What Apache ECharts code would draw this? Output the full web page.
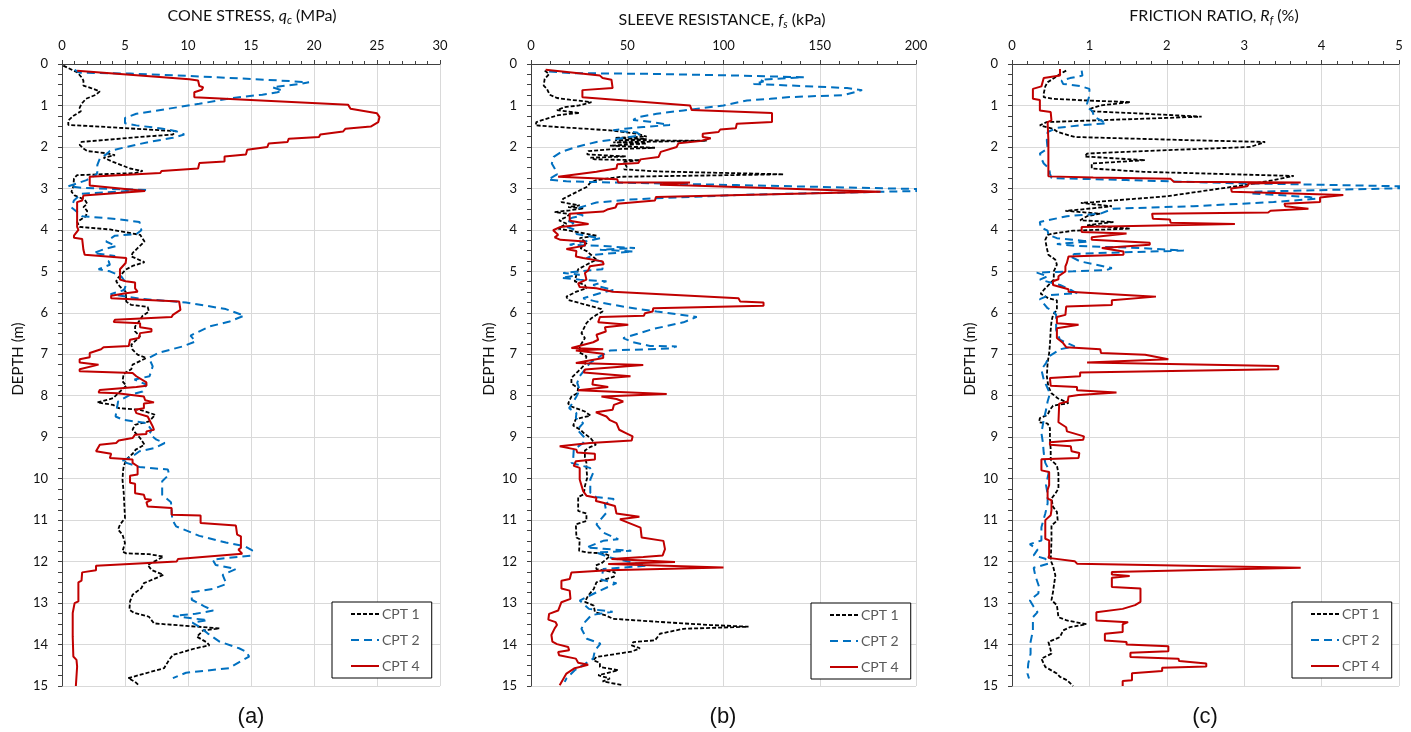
<!DOCTYPE html>
<html><head><meta charset="utf-8">
<script src="https://cdn.jsdelivr.net/npm/echarts@6/dist/echarts.min.js"></script>
<style>html,body{margin:0;padding:0;background:#fff}#c{width:1411px;height:732px}</style>
</head><body><div id="c"></div>
<script>
// ---------- DATA: [value, depth (m)] ----------
const seriesNames = ['CPT 1', 'CPT 2', 'CPT 4'];
const panelLabels = ['(a)', '(b)', '(c)'];
const depthLabel = 'DEPTH (m)';
const qcTicks = [0, 30, 5];      // min, max, interval
const fsTicks = [0, 200, 50];
const rfTicks = [0, 5, 1];
const depthTicks = [0, 15, 1];

const qcCpt1 = [[0.1,0.04],[1.2,0.20],[1.55,0.32],[1.7,0.40],[1.7,0.52],[2.3,0.58],[3.0,0.66],[2.7,0.74],[1.9,0.84],[1.55,0.96],[1.4,1.06],[1.5,1.14],[0.95,1.24],[0.5,1.36],[0.5,1.47],[3.0,1.51],[9.05,1.62],[8.8,1.70],[6.2,1.76],[1.55,1.88],[1.4,1.95],[1.7,2.04],[2.0,2.10],[3.5,2.15],[4.2,2.20],[3.3,2.26],[4.05,2.36],[4.9,2.46],[5.4,2.52],[6.4,2.58],[5.8,2.63],[1.2,2.68],[0.95,2.76],[0.9,2.96],[0.75,3.08],[1.0,3.17],[1.8,3.27],[2.0,3.37],[1.7,3.45],[2.0,3.54],[1.9,3.67],[1.2,3.81],[1.4,3.93],[3.8,3.99],[6.2,4.12],[6.55,4.28],[6.0,4.44],[5.6,4.56],[5.5,4.64],[6.55,4.78],[5.6,4.87],[5.05,4.96],[4.45,5.16],[4.3,5.24],[4.6,5.37],[5.05,5.49],[5.1,5.73],[5.5,5.81],[6.8,5.86],[6.9,5.97],[6.4,6.07],[6.2,6.17],[5.8,6.33],[5.8,6.45],[6.2,6.57],[5.5,6.77],[5.6,6.89],[6.0,7.01],[6.7,7.09],[5.6,7.25],[5.5,7.36],[4.9,7.47],[4.8,7.65],[5.1,7.76],[4.6,7.90],[4.05,8.06],[2.8,8.16],[4.05,8.22],[4.5,8.30],[6.2,8.34],[7.4,8.46],[6.9,8.62],[5.8,8.70],[5.6,8.82],[6.2,9.02],[6.55,9.18],[5.85,9.30],[5.6,9.40],[5.1,9.54],[4.9,9.70],[4.85,9.80],[4.8,10.02],[4.9,10.35],[5.0,10.95],[4.6,11.11],[4.45,11.23],[4.8,11.35],[5.0,11.55],[4.8,11.76],[5.1,11.80],[6.9,11.82],[8.05,11.88],[7.5,11.97],[6.8,12.08],[7.1,12.20],[8.05,12.32],[7.3,12.42],[6.5,12.52],[6.3,12.64],[5.6,12.80],[5.4,12.96],[5.35,13.16],[5.75,13.24],[6.9,13.33],[7.3,13.49],[9.85,13.55],[12.5,13.61],[11.2,13.66],[10.7,13.81],[11.5,13.95],[11.7,14.02],[10.6,14.09],[8.8,14.25],[8.5,14.37],[8.1,14.57],[5.25,14.81],[5.8,14.90],[6.15,15.0]];
const qcCpt2 = [[1.0,0.14],[1.4,0.21],[5.4,0.23],[10.9,0.30],[16.2,0.38],[19.6,0.44],[18.9,0.48],[16.7,0.56],[17.5,0.64],[17.1,0.68],[15.9,0.74],[13.5,0.82],[10.9,0.96],[8.4,1.08],[5.9,1.20],[5.0,1.30],[5.0,1.43],[5.9,1.48],[8.0,1.56],[9.05,1.62],[9.7,1.70],[8.8,1.78],[6.9,1.88],[5.1,2.00],[3.8,2.10],[3.5,2.18],[3.0,2.28],[2.8,2.44],[2.85,2.56],[2.75,2.66],[1.95,2.80],[0.5,2.95],[1.7,2.99],[3.8,3.01],[6.7,3.04],[1.55,3.13],[0.95,3.29],[0.75,3.46],[1.6,3.67],[4.05,3.73],[6.15,3.81],[6.3,4.01],[5.9,4.10],[4.2,4.14],[3.5,4.28],[4.3,4.39],[3.3,4.47],[2.5,4.56],[4.2,4.63],[3.7,4.76],[3.8,4.84],[2.9,4.95],[3.8,5.00],[4.7,5.12],[5.1,5.29],[4.95,5.45],[3.85,5.55],[6.15,5.66],[9.85,5.75],[13.0,5.91],[14.45,6.07],[13.3,6.21],[11.7,6.33],[10.2,6.55],[10.6,6.69],[9.6,6.81],[7.7,6.96],[6.9,7.09],[7.2,7.29],[6.95,7.53],[5.75,7.61],[6.7,7.73],[6.4,7.90],[5.4,7.98],[4.45,8.14],[4.25,8.50],[4.85,8.58],[6.7,8.66],[7.1,8.82],[6.95,8.92],[7.5,9.06],[8.15,9.14],[7.35,9.26],[6.15,9.34],[5.6,9.46],[4.7,9.58],[6.15,9.72],[8.4,9.78],[8.5,9.90],[7.95,10.06],[7.95,10.39],[8.65,10.57],[8.75,10.99],[9.05,11.15],[10.9,11.38],[13.0,11.54],[14.5,11.63],[15.1,11.73],[14.95,11.86],[11.95,11.95],[12.2,12.08],[13.8,12.18],[12.75,12.32],[13.05,12.54],[11.95,12.66],[10.3,12.74],[10.3,12.92],[11.3,13.08],[12.0,13.18],[10.6,13.26],[8.8,13.31],[10.35,13.37],[11.55,13.41],[10.35,13.47],[10.9,13.57],[11.55,13.73],[12.5,13.93],[14.05,14.09],[14.6,14.17],[14.85,14.29],[13.25,14.57],[9.85,14.68],[8.8,14.81]];
const qcCpt4 = [[1.2,0.16],[10.1,0.37],[10.8,0.40],[10.9,0.53],[11.2,0.56],[11.1,0.62],[10.5,0.68],[10.5,0.80],[22.7,0.98],[22.9,1.08],[25.0,1.19],[25.2,1.28],[25.1,1.40],[24.5,1.51],[24.4,1.55],[22.5,1.56],[22.3,1.63],[20.5,1.70],[20.4,1.76],[18.0,1.80],[17.9,1.88],[16.4,1.92],[16.3,2.00],[14.7,2.07],[14.6,2.18],[12.9,2.23],[12.9,2.35],[10.9,2.39],[10.8,2.52],[7.9,2.58],[7.8,2.63],[2.2,2.72],[2.2,2.93],[6.6,3.06],[1.7,3.17],[1.6,3.29],[1.2,3.33],[1.2,3.61],[1.2,3.93],[1.3,4.0],[0.95,4.14],[0.95,4.19],[1.6,4.22],[1.7,4.48],[1.8,4.60],[5.1,4.68],[5.05,4.80],[4.6,4.95],[4.6,5.20],[5.05,5.24],[5.8,5.27],[5.8,5.41],[6.0,5.49],[5.05,5.53],[3.9,5.59],[3.9,5.65],[9.3,5.73],[9.4,5.93],[8.8,6.05],[8.7,6.10],[4.2,6.17],[4.1,6.22],[6.2,6.25],[6.2,6.35],[7.1,6.39],[7.1,6.45],[6.2,6.49],[6.1,6.61],[5.4,6.65],[5.3,6.80],[3.3,6.83],[3.1,6.88],[2.2,6.97],[2.2,7.07],[1.4,7.12],[1.4,7.20],[2.9,7.25],[1.4,7.36],[1.4,7.41],[5.6,7.45],[5.9,7.53],[6.7,7.68],[6.7,7.76],[5.9,7.79],[3.0,7.86],[2.9,7.92],[4.4,7.94],[6.5,8.02],[6.6,8.11],[7.3,8.16],[6.5,8.19],[6.5,8.30],[5.8,8.34],[5.9,8.42],[6.8,8.50],[7.0,8.62],[7.2,8.74],[7.3,8.82],[6.7,8.86],[6.7,8.92],[5.8,8.94],[5.6,9.02],[4.5,9.08],[4.3,9.14],[3.0,9.18],[2.7,9.34],[3.9,9.40],[3.8,9.50],[5.6,9.54],[5.6,9.62],[6.0,9.70],[6.0,9.90],[5.4,9.93],[5.4,10.10],[5.8,10.12],[5.8,10.35],[6.5,10.39],[6.6,10.49],[7.1,10.51],[6.7,10.57],[6.8,10.67],[8.7,10.71],[8.7,10.87],[11.0,10.89],[11.0,11.07],[13.8,11.13],[13.9,11.35],[14.2,11.39],[14.2,11.67],[14.0,11.71],[14.3,11.81],[9.2,11.94],[9.1,12.00],[2.7,12.10],[2.7,12.21],[1.6,12.26],[1.55,12.46],[1.3,12.50],[1.3,12.96],[1.0,13.00],[0.85,13.24],[0.85,13.81],[0.9,14.29],[1.15,14.37],[1.2,14.53],[1.1,15.0]];

const fsCpt1 = [[7.1,0.16],[9.4,0.24],[7.1,0.36],[6.6,0.52],[8.3,0.60],[9.7,0.74],[13.5,0.82],[20.1,0.86],[31.4,0.92],[25.0,1.00],[17.5,1.04],[13.5,1.11],[20.1,1.15],[25.3,1.18],[20.1,1.20],[13.5,1.24],[2.8,1.40],[2.4,1.48],[14.1,1.52],[41.0,1.60],[54.9,1.68],[60.1,1.75],[43.6,1.78],[60.1,1.81],[43.6,1.84],[91.3,1.85],[42.7,1.89],[60.1,1.92],[41.0,1.97],[64.4,2.02],[41.0,2.06],[29.7,2.10],[29.2,2.18],[49.3,2.23],[30.9,2.26],[33.2,2.30],[56.6,2.32],[48.3,2.36],[49.7,2.48],[48.3,2.54],[65.3,2.59],[131.3,2.66],[46.2,2.72],[34.0,2.80],[30.6,2.87],[29.2,2.96],[25.7,3.04],[16.7,3.25],[15.8,3.33],[25.3,3.41],[19.3,3.45],[27.4,3.48],[20.1,3.53],[12.3,3.57],[20.1,3.62],[18.4,3.69],[14.6,3.77],[18.4,3.85],[14.1,3.97],[20.1,4.02],[34.0,4.14],[25.3,4.20],[29.2,4.31],[25.7,4.44],[29.2,4.52],[34.0,4.72],[28.8,4.84],[24.5,4.95],[23.6,5.08],[22.7,5.24],[28.0,5.33],[28.8,5.41],[23.6,5.49],[18.4,5.61],[19.3,5.69],[28.8,5.81],[36.6,5.91],[37.2,5.97],[34.0,6.05],[31.4,6.13],[28.8,6.25],[26.2,6.49],[28.0,6.61],[25.3,6.81],[25.3,6.96],[28.8,7.05],[28.0,7.25],[24.5,7.41],[21.0,7.57],[21.0,7.71],[24.5,7.82],[24.0,7.94],[21.0,8.02],[20.1,8.10],[19.3,8.19],[21.0,8.26],[28.0,8.38],[30.9,8.48],[23.3,8.56],[21.9,8.72],[25.7,8.82],[27.4,8.90],[30.9,9.02],[33.7,9.18],[30.6,9.24],[28.0,9.32],[28.0,9.48],[28.8,9.62],[28.8,9.74],[29.2,9.98],[28.0,10.18],[27.4,10.38],[24.5,10.44],[24.5,10.78],[28.8,10.84],[28.8,11.02],[23.3,11.10],[23.6,11.42],[25.3,11.46],[25.0,11.74],[29.7,11.78],[37.5,11.80],[41.0,11.86],[39.2,11.94],[36.6,12.04],[33.7,12.09],[34.0,12.18],[43.6,12.26],[43.1,12.36],[34.0,12.50],[32.6,12.66],[29.7,12.82],[28.0,12.97],[32.6,13.06],[33.2,13.22],[38.4,13.29],[42.7,13.38],[65.3,13.45],[93.1,13.53],[113.0,13.57],[79.2,13.62],[67.0,13.74],[64.4,13.90],[53.1,13.94],[52.3,14.02],[56.6,14.09],[52.3,14.17],[34.0,14.30],[32.3,14.38],[35.8,14.44],[35.8,14.54],[45.3,14.62],[34.9,14.74],[41.0,14.82],[37.2,14.89],[47.9,14.98]];
const fsCpt2 = [[9.4,0.18],[20.1,0.22],[65.3,0.24],[108.7,0.28],[141.7,0.32],[119.1,0.38],[120.8,0.42],[115.6,0.48],[164.2,0.58],[172.0,0.63],[162.5,0.75],[133.0,0.80],[124.3,0.84],[112.2,0.88],[113.0,0.92],[100.0,1.0],[79.2,1.12],[65.3,1.20],[55.7,1.28],[53.1,1.35],[61.8,1.39],[72.2,1.47],[58.3,1.52],[48.8,1.56],[42.7,1.60],[54.9,1.65],[56.9,1.72],[44.4,1.81],[34.0,1.88],[23.6,2.00],[15.8,2.12],[11.8,2.24],[10.8,2.40],[12.3,2.52],[13.5,2.66],[8.9,2.79],[18.4,2.83],[54.9,2.87],[106.9,2.92],[225,3.04],[141.7,3.12],[106.9,3.16],[63.2,3.24],[51.4,3.27],[44.4,3.30],[34.0,3.34],[25.3,3.46],[24.0,3.61],[27.1,3.65],[21.9,3.70],[18.4,3.77],[22.2,3.83],[18.8,3.93],[23.6,4.01],[23.6,4.10],[36.1,4.20],[20.1,4.36],[37.5,4.39],[54.0,4.44],[35.8,4.48],[53.1,4.52],[33.2,4.60],[28.8,4.68],[36.6,4.76],[37.2,4.95],[16.7,5.04],[25.3,5.08],[15.8,5.16],[25.3,5.20],[39.2,5.24],[32.3,5.33],[42.7,5.45],[34.9,5.54],[27.1,5.65],[34.0,5.73],[48.8,5.86],[65.3,5.97],[86.1,6.10],[79.2,6.23],[63.5,6.39],[47.9,6.61],[53.1,6.71],[61.8,6.80],[75.7,6.81],[72.2,6.86],[41.0,6.91],[35.8,7.05],[30.6,7.21],[28.0,7.37],[25.3,7.53],[24.0,7.69],[25.3,7.86],[23.6,8.02],[21.5,8.18],[19.8,8.30],[23.6,8.42],[23.3,8.54],[27.1,8.66],[24.0,8.82],[28.0,9.02],[27.1,9.14],[22.2,9.30],[21.9,9.54],[21.0,9.62],[30.6,9.74],[32.3,9.86],[30.8,10.02],[30.8,10.34],[33.7,10.44],[43.1,10.49],[38.4,10.62],[39.2,10.82],[34.0,11.10],[37.5,11.30],[45.3,11.46],[37.5,11.50],[28.8,11.66],[37.5,11.69],[52.1,11.74],[34.0,11.78],[41.0,11.90],[60.1,12.10],[37.5,12.18],[36.6,12.44],[44.4,12.52],[35.8,12.70],[25.3,12.94],[30.1,13.14],[42.4,13.21],[31.4,13.29],[28.0,13.46],[26.2,13.62],[29.0,13.86],[36.1,13.98],[33.2,14.14],[32.3,14.34],[22.7,14.62],[18.4,14.82],[17.5,14.90]];
const fsCpt4 = [[7.6,0.14],[8.3,0.18],[35.8,0.28],[37.2,0.34],[41.8,0.38],[42.4,0.58],[26.7,0.63],[26.7,0.80],[82.6,1.0],[83.5,1.11],[125.2,1.18],[125.2,1.40],[106.9,1.44],[106.4,1.55],[98.3,1.58],[97.4,1.64],[89.2,1.68],[89.2,1.76],[93.4,1.79],[87.8,1.86],[76.6,1.91],[75.7,2.00],[67.4,2.12],[66.3,2.24],[56.9,2.30],[55.7,2.39],[44.8,2.42],[44.4,2.52],[36.1,2.58],[34.0,2.60],[14.1,2.72],[44.8,2.78],[45.3,2.86],[82.6,2.86],[67.0,2.91],[82.6,2.93],[181.6,3.08],[64.9,3.21],[64.4,3.29],[44.8,3.37],[43.9,3.46],[39.6,3.51],[37.5,3.56],[20.1,3.61],[20.1,3.78],[29.9,3.86],[15.3,3.93],[11.5,4.01],[14.1,4.12],[12.3,4.18],[15.3,4.24],[28.0,4.28],[28.0,4.38],[18.4,4.46],[23.6,4.51],[23.3,4.64],[27.1,4.68],[37.2,4.76],[37.8,4.83],[30.6,4.88],[29.7,4.98],[28.0,5.04],[28.8,5.20],[24.5,5.29],[25.3,5.38],[34.0,5.41],[42.4,5.49],[43.1,5.53],[107.8,5.65],[108.7,5.73],[120.8,5.75],[120.8,5.83],[63.5,5.89],[63.2,5.97],[59.2,6.01],[58.7,6.07],[35.8,6.10],[34.9,6.23],[50.5,6.29],[38.4,6.35],[38.9,6.45],[34.0,6.53],[34.9,6.65],[32.3,6.71],[21.0,6.85],[37.5,6.88],[23.3,6.91],[37.5,6.99],[37.5,7.09],[23.3,7.21],[58.3,7.26],[28.0,7.37],[27.4,7.44],[51.7,7.53],[32.3,7.60],[31.9,7.73],[40.1,7.79],[24.5,7.87],[70.5,7.96],[36.6,8.02],[44.4,8.08],[47.9,8.14],[43.1,8.22],[42.4,8.34],[33.7,8.40],[39.2,8.50],[41.0,8.59],[44.4,8.66],[45.8,8.82],[49.3,8.90],[52.8,8.98],[52.3,9.08],[30.6,9.14],[14.9,9.22],[23.6,9.30],[24.0,9.37],[33.2,9.40],[33.2,9.54],[23.3,9.58],[22.2,9.69],[25.3,9.74],[25.3,10.02],[27.1,10.30],[28.8,10.41],[34.0,10.46],[33.7,10.54],[37.5,10.58],[43.6,10.66],[44.4,10.84],[56.3,10.92],[46.2,10.98],[56.9,11.18],[57.5,11.42],[68.8,11.50],[69.6,11.70],[68.4,11.85],[58.3,11.89],[41.8,11.94],[74.8,12.01],[40.1,12.06],[100.0,12.14],[40.1,12.21],[21.0,12.26],[20.1,12.42],[15.8,12.46],[15.8,12.65],[20.1,12.70],[20.5,12.90],[15.8,12.98],[14.1,13.18],[9.4,13.26],[9.0,13.40],[12.8,13.46],[13.5,13.53],[12.3,13.61],[10.6,13.77],[11.1,13.93],[13.5,13.99],[19.3,14.06],[19.8,14.14],[14.1,14.18],[14.6,14.26],[23.3,14.34],[24.5,14.44],[29.7,14.49],[22.7,14.57],[18.4,14.70],[14.9,14.98]];

const rfCpt1 = [[0.70,0.16],[0.62,0.24],[0.56,0.32],[0.46,0.44],[0.43,0.54],[0.41,0.71],[0.41,0.80],[0.53,0.84],[0.97,0.88],[1.53,0.92],[1.14,1.00],[1.01,1.08],[1.03,1.14],[1.72,1.20],[2.45,1.27],[2.0,1.30],[0.45,1.40],[0.36,1.48],[0.53,1.56],[0.59,1.64],[0.81,1.76],[2.34,1.84],[3.27,1.88],[3.08,2.00],[1.70,2.10],[0.97,2.16],[0.94,2.23],[1.72,2.32],[1.03,2.40],[1.03,2.52],[1.70,2.60],[3.64,2.70],[3.38,2.80],[3.0,2.92],[2.0,3.19],[1.05,3.33],[0.89,3.35],[1.29,3.43],[0.88,3.51],[0.69,3.54],[1.14,3.61],[0.97,3.67],[0.88,3.77],[1.31,3.81],[0.97,3.89],[1.53,3.97],[0.79,4.02],[0.53,4.09],[0.46,4.12],[0.43,4.24],[0.45,4.44],[0.47,4.60],[0.56,4.72],[0.58,4.84],[0.54,5.00],[0.54,5.20],[0.41,5.45],[0.37,5.54],[0.47,5.65],[0.58,5.70],[0.58,5.93],[0.53,6.05],[0.51,6.21],[0.50,6.41],[0.49,6.77],[0.48,6.97],[0.46,7.21],[0.45,7.53],[0.47,7.78],[0.51,7.94],[0.59,8.06],[0.73,8.18],[0.53,8.24],[0.49,8.34],[0.46,8.46],[0.36,8.54],[0.35,8.64],[0.46,8.67],[0.49,8.78],[0.49,9.02],[0.50,9.30],[0.50,9.54],[0.58,9.68],[0.60,9.88],[0.60,10.24],[0.56,10.36],[0.51,10.48],[0.53,10.68],[0.58,10.80],[0.59,11.00],[0.51,11.13],[0.51,11.49],[0.50,11.97],[0.53,12.11],[0.56,12.33],[0.53,12.73],[0.51,12.93],[0.58,13.05],[0.60,13.34],[0.71,13.42],[0.96,13.51],[0.75,13.58],[0.66,13.66],[0.62,13.82],[0.47,13.94],[0.49,14.06],[0.51,14.22],[0.38,14.34],[0.43,14.54],[0.58,14.70],[0.62,14.78],[0.71,14.86],[0.79,15.0]];
const rfCpt2 = [[0.90,0.16],[0.91,0.28],[0.75,0.34],[0.64,0.40],[0.66,0.48],[0.88,0.53],[1.0,0.60],[1.0,0.76],[0.97,0.96],[0.97,1.04],[1.04,1.14],[1.06,1.27],[1.22,1.43],[0.88,1.48],[0.58,1.54],[0.46,1.64],[0.45,1.84],[0.46,2.04],[0.36,2.16],[0.38,2.28],[0.41,2.40],[0.48,2.52],[0.49,2.64],[0.51,2.75],[1.48,2.80],[2.78,2.87],[5.6,2.97],[3.12,3.08],[3.09,3.12],[3.85,3.21],[3.93,3.25],[3.38,3.33],[2.34,3.43],[1.31,3.49],[1.14,3.61],[0.71,3.67],[0.36,3.81],[0.37,3.94],[0.46,4.02],[0.47,4.12],[0.58,4.20],[0.99,4.28],[0.58,4.34],[0.84,4.39],[1.70,4.44],[2.22,4.50],[1.27,4.55],[0.81,4.58],[0.75,4.64],[0.88,4.76],[1.29,4.92],[1.22,4.97],[0.79,5.00],[0.32,5.03],[0.46,5.12],[0.36,5.20],[0.62,5.33],[0.76,5.45],[0.84,5.53],[0.49,5.57],[0.36,5.67],[0.46,5.89],[0.54,5.97],[0.57,6.05],[0.57,6.41],[0.62,6.65],[0.81,6.81],[0.62,6.88],[0.48,7.05],[0.44,7.21],[0.38,7.37],[0.41,7.61],[0.46,7.82],[0.49,7.95],[0.46,8.14],[0.44,8.34],[0.41,8.58],[0.38,8.90],[0.40,9.14],[0.41,9.38],[0.43,9.62],[0.48,9.80],[0.44,10.16],[0.46,10.36],[0.46,10.60],[0.43,10.84],[0.38,11.17],[0.38,11.49],[0.23,11.58],[0.33,11.71],[0.28,11.85],[0.43,11.93],[0.47,12.05],[0.28,12.15],[0.30,12.33],[0.35,12.61],[0.34,12.77],[0.23,12.93],[0.28,13.09],[0.33,13.22],[0.27,13.34],[0.27,13.66],[0.24,13.94],[0.24,14.22],[0.21,14.46],[0.20,14.70],[0.22,14.82]];
const rfCpt4 = [[0.62,0.12],[0.62,0.28],[0.41,0.34],[0.38,0.54],[0.27,0.60],[0.27,0.84],[0.36,0.87],[0.36,1.12],[0.50,1.16],[0.51,1.36],[0.46,1.40],[0.47,1.84],[0.47,2.71],[1.05,2.74],[2.05,2.77],[2.09,2.84],[3.73,2.86],[3.06,2.88],[3.04,2.95],[2.83,3.00],[2.84,3.08],[4.28,3.16],[3.98,3.22],[3.98,3.33],[3.52,3.37],[3.53,3.43],[3.83,3.49],[3.34,3.54],[3.31,3.58],[1.81,3.61],[1.82,3.73],[2.04,3.75],[2.05,3.83],[2.88,3.86],[0.90,3.93],[0.90,4.05],[1.48,4.09],[1.03,4.18],[1.03,4.24],[1.78,4.31],[1.78,4.36],[1.16,4.44],[1.44,4.52],[1.44,4.60],[0.73,4.64],[0.71,4.79],[0.69,4.88],[0.69,5.00],[0.60,5.12],[0.60,5.19],[0.53,5.24],[0.53,5.33],[0.73,5.43],[0.73,5.49],[1.86,5.61],[1.29,5.70],[1.29,5.81],[0.70,5.85],[0.69,6.05],[0.58,6.10],[0.58,6.25],[0.86,6.29],[0.86,6.33],[0.58,6.37],[0.58,6.61],[0.66,6.73],[0.70,6.83],[1.14,6.88],[1.15,6.97],[1.72,7.01],[1.72,7.05],[2.02,7.12],[0.97,7.20],[3.44,7.28],[3.44,7.36],[0.88,7.44],[0.88,7.53],[0.49,7.57],[0.50,7.76],[0.84,7.79],[0.84,7.87],[1.35,7.92],[0.86,7.98],[0.73,8.02],[0.72,8.14],[0.61,8.19],[0.60,8.64],[0.70,8.76],[0.71,8.86],[0.93,8.98],[0.92,9.06],[0.49,9.12],[0.49,9.18],[0.76,9.22],[0.77,9.34],[0.87,9.38],[0.86,9.50],[0.38,9.53],[0.38,9.80],[0.48,9.84],[0.48,10.16],[0.46,10.27],[0.46,10.48],[0.51,10.52],[0.51,10.76],[0.50,10.88],[0.43,11.00],[0.43,11.45],[0.48,11.49],[0.48,11.85],[0.47,11.91],[0.48,11.95],[0.81,11.99],[0.84,12.05],[3.73,12.15],[1.29,12.25],[1.29,12.31],[1.52,12.35],[1.29,12.39],[1.29,12.61],[1.66,12.65],[1.66,12.97],[1.59,13.05],[1.57,13.09],[1.43,13.14],[1.09,13.22],[1.09,13.42],[1.50,13.46],[1.43,13.51],[1.43,13.70],[1.20,13.74],[1.20,13.90],[1.48,13.94],[1.48,14.00],[2.02,14.04],[2.02,14.16],[1.53,14.20],[1.53,14.30],[2.15,14.34],[2.16,14.40],[2.51,14.46],[2.51,14.53],[1.94,14.56],[1.94,14.64],[1.55,14.69],[1.55,14.86],[1.43,14.88],[1.43,15.0]];

// ---------- CHART ----------
const FONT = 'Lato, "Open Sans", sans-serif';
const colors = ['#000000', '#0070C0', '#C00000'];
const dashes = [[4, 2], [8, 5], 'solid'];
const grids = [
  {left: 62, top: 64, width: 378, height: 622},
  {left: 531, top: 64, width: 385, height: 622},
  {left: 1012, top: 64, width: 387, height: 622}
];
const xTicks = [qcTicks, fsTicks, rfTicks];
const panelData = [[qcCpt1, qcCpt2, qcCpt4], [fsCpt1, fsCpt2, fsCpt4], [rfCpt1, rfCpt2, rfCpt4]];
const AX = '#404040';

const xAxes = grids.map((g, i) => ({
  type: 'value', gridIndex: i, position: 'top',
  min: xTicks[i][0], max: xTicks[i][1], interval: xTicks[i][2],
  axisLine: {show: true, onZero: false, lineStyle: {color: AX, width: 1}},
  axisTick: {show: true, inside: false, length: 4, lineStyle: {color: AX}},
  minorTick: {show: true, splitNumber: 5, length: 3, lineStyle: {color: AX}},
  axisLabel: {color: '#111', fontSize: 13, fontFamily: FONT, margin: 12},
  splitLine: {show: true, lineStyle: {color: '#d9d9d9', width: 1}}
}));
const yAxes = grids.map((g, i) => ({
  type: 'value', gridIndex: i, inverse: true,
  min: depthTicks[0], max: depthTicks[1], interval: depthTicks[2],
  axisLine: {show: true, onZero: false, lineStyle: {color: AX, width: 1}},
  axisTick: {show: true, inside: false, length: 4, lineStyle: {color: AX}},
  minorTick: {show: true, splitNumber: 4, length: 4, lineStyle: {color: AX}},
  axisLabel: {color: '#111', fontSize: 13, fontFamily: FONT, margin: 14},
  splitLine: {show: true, lineStyle: {color: '#d9d9d9', width: 1}}
}));

const series = [];
panelData.forEach((arr, p) => {
  arr.forEach((d, k) => {
    series.push({
      type: 'line', name: seriesNames[k], xAxisIndex: p, yAxisIndex: p,
      data: d, symbol: 'none', showSymbol: false, clip: true, z: k === 2 ? 3 : 2,
      lineStyle: {color: colors[k], width: k === 0 ? 1.8 : 2, type: dashes[k]},
      itemStyle: {color: colors[k]}
    });
  });
});

const legendPos = [[332, 602], [811, 603], [1292, 602]];
const legends = legendPos.map(p => ({
  left: p[0], top: p[1], orient: 'vertical', data: seriesNames,
  itemWidth: 28, itemHeight: 14, itemGap: 12,
  borderColor: '#000', borderWidth: 1, padding: [5, 12, 5, 18],
  backgroundColor: '#fff',
  itemStyle: {opacity: 0},
  textStyle: {color: '#595959', fontSize: 14, fontFamily: FONT, padding: [0, 0, 0, -2]},
  selectedMode: false
}));

const rich = {
  n: {fontSize: 16, color: '#111', fontFamily: FONT, fontWeight: 'normal'},
  i: {fontSize: 16, color: '#111', fontFamily: FONT, fontStyle: 'italic', fontWeight: 'normal'},
  s: {fontSize: 11, color: '#111', fontFamily: FONT, fontStyle: 'italic', fontWeight: 'normal', padding: [9, 0, 0, 0]}
};
const titleTexts = [
  '{n|CONE STRESS, }{i|q}{s|c}{n| (MPa)}',
  '{n|SLEEVE RESISTANCE, }{i|f}{s|s}{n| (kPa)}',
  '{n|FRICTION RATIO, }{i|R}{s|f}{n| (%)}'
];
const titleX = [252, 722, 1214];
const titleTop = [6, 10, 6];
const titles = titleTexts.map((t, i) => ({
  text: t, left: titleX[i], top: titleTop[i], textAlign: 'center', padding: 0,
  textStyle: {rich: rich, fontWeight: 'normal'}
}));

const graphics = panelLabels.map((t, i) => ({
  type: 'text', x: [251, 723, 1205][i], y: 717,
  style: {text: t, fill: '#111', font: '22px "Liberation Sans", Arial, sans-serif', align: 'center', verticalAlign: 'middle'}
})).concat([18, 489, 970].map(x => ({
  type: 'text', x: x, y: 359, rotation: Math.PI / 2,
  style: {text: depthLabel, fill: '#111', font: '15px Lato, sans-serif', align: 'center', verticalAlign: 'middle'}
})));

const chart = echarts.init(document.getElementById('c'));
chart.setOption({
  animation: false,
  backgroundColor: '#fff',
  title: titles,
  grid: grids,
  xAxis: xAxes,
  yAxis: yAxes,
  legend: legends,
  graphic: graphics,
  series: series
});
</script></body></html>
